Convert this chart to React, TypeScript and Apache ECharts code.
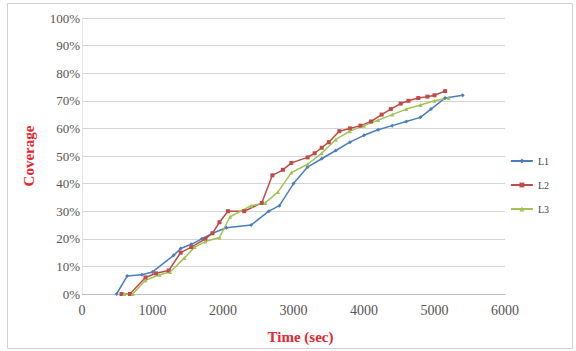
import React, { useEffect, useRef } from "react";
import * as echarts from "echarts";

const xTicks = [0, 1000, 2000, 3000, 4000, 5000, 6000];
const yTickMax = 100;

const l1X = [490, 640, 850, 1000, 1300, 1400, 1550, 1700, 1850, 2050, 2400, 2650, 2800, 3000, 3200, 3400, 3600, 3800, 4000, 4200, 4400, 4600, 4800, 4950, 5150, 5400];
const l1Y = [0, 6.5, 7, 8, 14, 16.5, 18, 20, 22, 24, 25, 30, 32, 40, 46, 49, 52, 55, 57.5, 59.5, 61, 62.5, 64, 67, 71, 72];

const l2X = [560, 680, 900, 1050, 1230, 1400, 1550, 1750, 1850, 1950, 2070, 2300, 2550, 2700, 2850, 2970, 3200, 3300, 3400, 3500, 3650, 3800, 3950, 4100, 4250, 4380, 4520, 4630, 4770, 4900, 5000, 5150];
const l2Y = [0, 0, 6, 7.5, 8.5, 15, 17, 20, 22, 26, 30, 30, 33, 43, 45, 47.5, 49.5, 51, 53, 55, 59, 60, 61, 62.5, 65, 67, 69, 70, 71, 71.5, 72, 73.5];

const l3X = [600, 720, 900, 1100, 1250, 1450, 1600, 1750, 1950, 2100, 2400, 2600, 2780, 2970, 3200, 3400, 3600, 3800, 4000, 4200, 4400, 4600, 4800, 5000, 5200];
const l3Y = [0, 0, 5, 7, 8, 13, 17, 19, 20.5, 28, 32, 33, 37, 44, 47, 51, 56, 59, 61, 63, 65, 67, 68.5, 70, 71];

const seriesNames = ["L1", "L2", "L3"];
const seriesColors = ["#4A7EBB", "#BE4B48", "#A3C154"];
const seriesSymbols = ["diamond", "rect", "triangle"];

const FONT = "'Liberation Serif', 'Times New Roman', serif";

function zip(xs: number[], ys: number[]) {
  return xs.map((x, i) => [x, ys[i]]);
}

export default function App() {
  const ref = useRef<HTMLDivElement>(null);
  useEffect(() => {
    document.body.style.margin = "0";
    if (!ref.current) return;
    const chart = echarts.init(ref.current, undefined, { renderer: "svg" });
    const datas = [zip(l1X, l1Y), zip(l2X, l2Y), zip(l3X, l3Y)];
    chart.setOption({
      animation: false,
      backgroundColor: "#ffffff",
      graphic: [
        {
          type: "rect",
          shape: { x: 7.5, y: 3.5, width: 565, height: 345 },
          style: { fill: "none", stroke: "#d0d0d0", lineWidth: 1 },
          silent: true,
        },
      ],
      grid: { left: 82, right: 71, top: 18, bottom: 57 },
      legend: {
        orient: "vertical",
        right: 22,
        top: 151,
        itemWidth: 22,
        itemHeight: 6,
        itemGap: 14,
        textStyle: { fontFamily: FONT, fontSize: 10, color: "#444" },
        data: seriesNames,
      },
      xAxis: {
        type: "value",
        min: xTicks[0],
        max: xTicks[xTicks.length - 1],
        interval: 1000,
        name: "Time (sec)",
        nameLocation: "middle",
        nameGap: 35,
        nameTextStyle: { fontFamily: FONT, fontSize: 15, fontWeight: "bold", color: "#E8262E", padding: [0, 0, 0, 14] },
        axisLine: { lineStyle: { color: "#bfbfbf" } },
        axisTick: { show: false },
        splitLine: { show: false },
        axisLabel: { fontFamily: FONT, fontSize: 14, color: "#555", margin: 9, formatter: (v: number) => String(v) },
      },
      yAxis: {
        type: "value",
        min: 0,
        max: yTickMax,
        interval: 10,
        name: "Coverage",
        nameLocation: "middle",
        nameGap: 46,
        nameTextStyle: { fontFamily: FONT, fontSize: 15, fontWeight: "bold", color: "#E8262E" },
        axisLine: { show: true, lineStyle: { color: "#e4e4e4" } },
        axisTick: { show: false },
        splitLine: { lineStyle: { color: "#d4d4d4", width: 1 } },
        axisLabel: { fontFamily: FONT, fontSize: 13, color: "#555", margin: 2, formatter: "{value}%" },
      },
      series: datas.map((d, i) => ({
        name: seriesNames[i],
        type: "line",
        data: d,
        symbol: seriesSymbols[i],
        symbolSize: 4,
        showSymbol: true,
        color: seriesColors[i],
        lineStyle: { width: 1.5, color: seriesColors[i] },
        itemStyle: { color: seriesColors[i] },
      })),
    });
    return () => chart.dispose();
  }, []);
  return <div ref={ref} style={{ width: 576, height: 351 }} />;
}
